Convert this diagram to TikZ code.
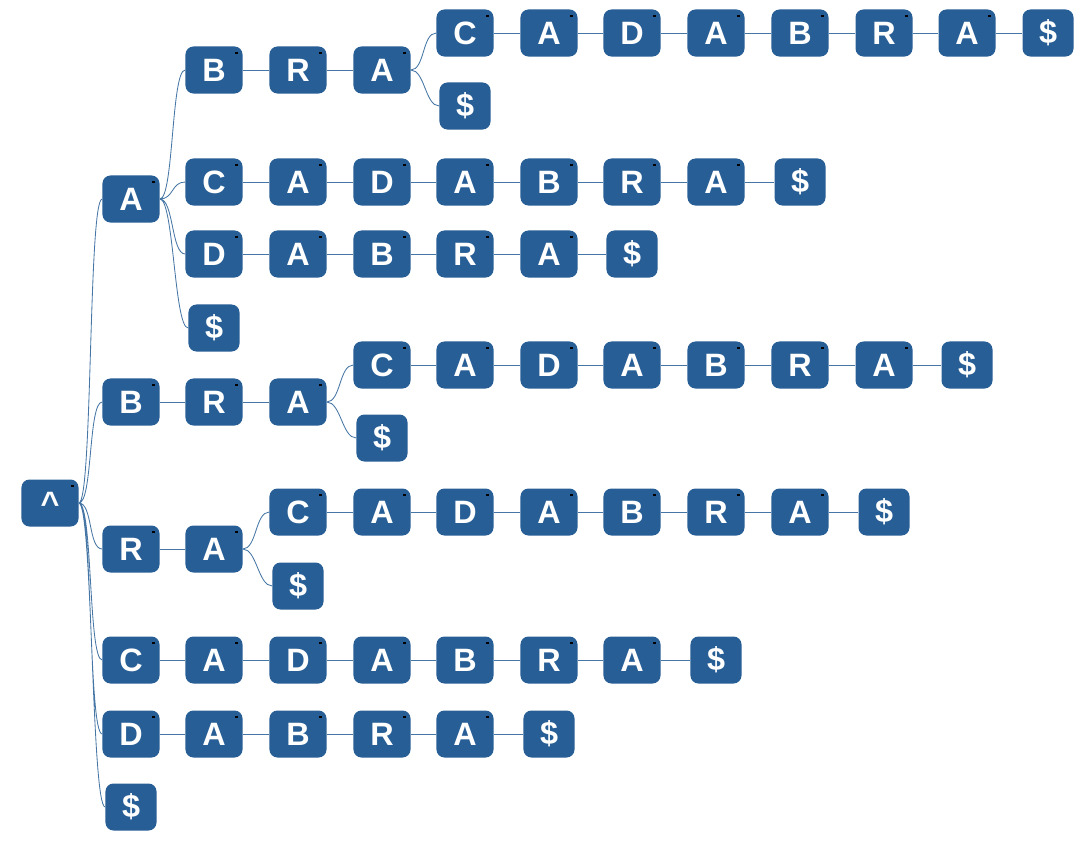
\documentclass[tikz,border=0pt]{standalone}
\usepackage{fontspec}
\setmainfont{Liberation Sans}
\definecolor{trieblue}{RGB}{39,94,149}
\definecolor{linkblue}{RGB}{70,118,165}
\tikzset{
    main node/.style={rectangle,rounded corners=0.2cm,fill=trieblue,text=white,
        minimum width=1.425cm,minimum height=1.175cm,inner sep=0pt,
        font=\fontsize{23}{23}\selectfont\bfseries},
    end node/.style={main node,minimum width=1.275cm},
    inner node/.style={main node,path picture={
        \draw[sharp corners,black,line width=0.45pt,fill=black]
            ([xshift=-5.2pt,yshift=-5.2pt]path picture bounding box.north east)
            rectangle ++(1.2pt,1.2pt);}},
    link/.style={draw=linkblue,line width=0.6pt},
    fork/.style={to path={.. controls +(14,0) and +(-14,0) .. (\tikztotarget)}}
}
\begin{document}
\begin{tikzpicture}[x=0.025cm,y=-0.025cm]
\useasboundingbox (0,0) rectangle (1087,843);

% root
\node at (50,503) [inner node] (root) {\^{}};

% first column
\node at (131,199) [inner node] (a) {A};
\node at (131,402) [inner node] (b) {B};
\node at (131,549) [inner node] (r) {R};
\node at (131,660) [inner node] (c) {C};
\node at (131,734) [inner node] (d) {D};
\node at (131,807) [end node] (z) {\$};

% A...
\node at (214,70) [inner node] (ab) {B};
\node at (298,70) [inner node] (abr) {R};
\node at (382,70) [inner node] (abra) {A};
\node at (465,33) [inner node] (abrac) {C};
\node at (549,33) [inner node] (abraca) {A};
\node at (632,33) [inner node] (abracad) {D};
\node at (716,33) [inner node] (abracada) {A};
\node at (800,33) [inner node] (abracadab) {B};
\node at (884,33) [inner node] (abracadabr) {R};
\node at (967,33) [inner node] (abracadabra) {A};
\node at (1048,33) [end node] (abracadabraz) {\$};
\node at (465,106) [end node] (abraz) {\$};

\node at (214,182) [inner node] (ac) {C};
\node at (298,182) [inner node] (aca) {A};
\node at (382,182) [inner node] (acad) {D};
\node at (465,182) [inner node] (acada) {A};
\node at (549,182) [inner node] (acadab) {B};
\node at (632,182) [inner node] (acadabr) {R};
\node at (716,182) [inner node] (acadabra) {A};
\node at (800,182) [end node] (acadabraz) {\$};

\node at (214,254) [inner node] (ad) {D};
\node at (298,254) [inner node] (ada) {A};
\node at (382,254) [inner node] (adab) {B};
\node at (465,254) [inner node] (adabr) {R};
\node at (549,254) [inner node] (adabra) {A};
\node at (632,254) [end node] (adabraz) {\$};

\node at (214,328) [end node] (az) {\$};

% B...
\node at (214,402) [inner node] (br) {R};
\node at (298,402) [inner node] (bra) {A};
\node at (382,365) [inner node] (brac) {C};
\node at (465,365) [inner node] (braca) {A};
\node at (549,365) [inner node] (bracad) {D};
\node at (632,365) [inner node] (bracada) {A};
\node at (716,365) [inner node] (bracadab) {B};
\node at (800,365) [inner node] (bracadabr) {R};
\node at (884,365) [inner node] (bracadabra) {A};
\node at (967,365) [end node] (bracadabraz) {\$};
\node at (382,438) [end node] (braz) {\$};

% R...
\node at (214,549) [inner node] (ra) {A};
\node at (298,512) [inner node] (rac) {C};
\node at (382,512) [inner node] (raca) {A};
\node at (465,512) [inner node] (racad) {D};
\node at (549,512) [inner node] (racada) {A};
\node at (632,512) [inner node] (racadab) {B};
\node at (716,512) [inner node] (racadabr) {R};
\node at (800,512) [inner node] (racadabra) {A};
\node at (884,512) [end node] (racadabraz) {\$};
\node at (298,586) [end node] (raz) {\$};

% C...
\node at (214,660) [inner node] (ca) {A};
\node at (298,660) [inner node] (cad) {D};
\node at (382,660) [inner node] (cada) {A};
\node at (465,660) [inner node] (cadab) {B};
\node at (549,660) [inner node] (cadabr) {R};
\node at (632,660) [inner node] (cadabra) {A};
\node at (716,660) [end node] (cadabraz) {\$};

% D...
\node at (214,734) [inner node] (da) {A};
\node at (298,734) [inner node] (dab) {B};
\node at (382,734) [inner node] (dabr) {R};
\node at (465,734) [inner node] (dabra) {A};
\node at (549,734) [end node] (dabraz) {\$};

% forks
\draw[link] (root.east) to[fork] (a.west)
    (root.east) to[fork] (b.west)
    (root.east) to[fork] (r.west)
    (root.east) to[fork] (c.west)
    (root.east) to[fork] (d.west)
    (root.east) to[fork] (z.west);
\draw[link] (a.east) to[fork] (ab.west)
    (a.east) to[fork] (ac.west)
    (a.east) to[fork] (ad.west)
    (a.east) to[fork] (az.west);
\draw[link] (abra.east) to[fork] (abrac.west)
    (abra.east) to[fork] (abraz.west);
\draw[link] (bra.east) to[fork] (brac.west)
    (bra.east) to[fork] (braz.west);
\draw[link] (ra.east) to[fork] (rac.west)
    (ra.east) to[fork] (raz.west);

% chains
\draw[link] (ab) -- (abr) -- (abra);
\draw[link] (abrac) -- (abraca) -- (abracad) -- (abracada) -- (abracadab)
    -- (abracadabr) -- (abracadabra) -- (abracadabraz);
\draw[link] (ac) -- (aca) -- (acad) -- (acada) -- (acadab) -- (acadabr)
    -- (acadabra) -- (acadabraz);
\draw[link] (ad) -- (ada) -- (adab) -- (adabr) -- (adabra) -- (adabraz);
\draw[link] (b) -- (br) -- (bra);
\draw[link] (brac) -- (braca) -- (bracad) -- (bracada) -- (bracadab)
    -- (bracadabr) -- (bracadabra) -- (bracadabraz);
\draw[link] (r) -- (ra);
\draw[link] (rac) -- (raca) -- (racad) -- (racada) -- (racadab) -- (racadabr)
    -- (racadabra) -- (racadabraz);
\draw[link] (c) -- (ca) -- (cad) -- (cada) -- (cadab) -- (cadabr) -- (cadabra)
    -- (cadabraz);
\draw[link] (d) -- (da) -- (dab) -- (dabr) -- (dabra) -- (dabraz);

\end{tikzpicture}
\end{document}
